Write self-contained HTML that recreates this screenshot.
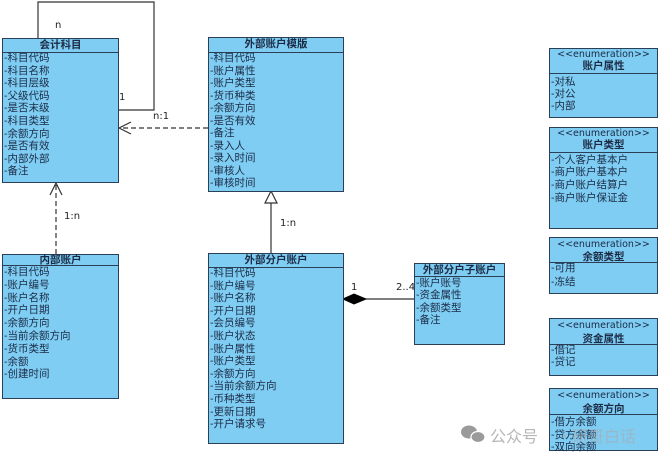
<!DOCTYPE html>
<html><head><meta charset="utf-8">
<style>
*{margin:0;padding:0;box-sizing:border-box}
html,body{width:660px;height:462px;background:#fff;overflow:hidden}
body{position:relative;font-family:"Liberation Sans","Noto Sans CJK SC",sans-serif;color:#1b2b45}
.b{position:absolute;background:#7fcdf3;border:1.3px solid #2b3f57}
.h{position:absolute;left:0;right:0;top:0;border-bottom:1.3px solid #2b3f57;text-align:center;font-weight:bold;font-size:10.5px;line-height:12px}
.r{position:absolute;left:1px;font-size:10.5px;white-space:nowrap}
.e{font-weight:normal;font-family:"DejaVu Sans","Noto Sans CJK SC",sans-serif;font-size:9.5px}
.l{position:absolute;font-size:10px;color:#222;font-family:"DejaVu Sans",sans-serif}
svg{position:absolute;left:0;top:0}
.wm{position:absolute;color:#aaa;font-size:16px;font-family:"Noto Sans CJK SC",sans-serif;line-height:16px;opacity:.85}
</style></head><body>

<svg width="660" height="462">
<g fill="none" stroke="#333" stroke-width="1.2">
<polyline points="38,38 38,2 154,2 154,110 118,110"/>
<line x1="208" y1="128" x2="120" y2="128" stroke-dasharray="5,3"/>
<polyline points="131,122 119,128 131,134"/>
<line x1="56" y1="254" x2="56" y2="184" stroke-dasharray="5,3"/>
<polyline points="50,195 56,183 62,195"/>
<line x1="271" y1="253" x2="271" y2="203"/>
<line x1="366" y1="299" x2="414" y2="299"/>
</g>
<polygon points="271,191 265,203 277,203" fill="#fff" stroke="#333" stroke-width="1.2"/>
<polygon points="343,299 354,294 366,299 354,304" fill="#000" stroke="#000"/>
<g fill="#9a9a9a">
<ellipse cx="469" cy="432" rx="8" ry="6.5"/>
<ellipse cx="478" cy="437" rx="7" ry="5.5" stroke="#fff" stroke-width="1.2"/>
</g>
</svg>

<div class="l" style="left:55px;top:20px">n</div>
<div class="l" style="left:119px;top:92px">1</div>
<div class="l" style="left:153px;top:111px">n:1</div>
<div class="l" style="left:64px;top:211px">1:n</div>
<div class="l" style="left:280px;top:218px">1:n</div>
<div class="l" style="left:351px;top:282px">1</div>
<div class="l" style="left:396px;top:282px">2..4</div>

<!-- 会计科目 -->
<div class="b" style="left:2px;top:38px;width:117px;height:145px">
<div class="h" style="height:14px">会计科目</div>
<div class="r" style="top:13px;line-height:12.6px">-科目代码<br>-科目名称<br>-科目层级<br>-父级代码<br>-是否末级<br>-科目类型<br>-余额方向<br>-是否有效<br>-内部外部<br>-备注</div>
</div>

<!-- 外部账户模版 -->
<div class="b" style="left:208px;top:37px;width:136px;height:155px">
<div class="h" style="height:15px">外部账户模版</div>
<div class="r" style="top:14px;line-height:12.5px">-科目代码<br>-账户属性<br>-账户类型<br>-货币种类<br>-余额方向<br>-是否有效<br>-备注<br>-录入人<br>-录入时间<br>-审核人<br>-审核时间</div>
</div>

<!-- 内部账户 -->
<div class="b" style="left:2px;top:254px;width:117px;height:145px">
<div class="h" style="height:11px;line-height:10px">内部账户</div>
<div class="r" style="top:11px;line-height:12.8px">-科目代码<br>-账户编号<br>-账户名称<br>-开户日期<br>-余额方向<br>-当前余额方向<br>-货币类型<br>-余额<br>-创建时间</div>
</div>

<!-- 外部分户账户 -->
<div class="b" style="left:208px;top:253px;width:136px;height:191px">
<div class="h" style="height:14px">外部分户账户</div>
<div class="r" style="top:13px;line-height:12.6px">-科目代码<br>-账户编号<br>-账户名称<br>-开户日期<br>-会员编号<br>-账户状态<br>-账户属性<br>-账户类型<br>-余额方向<br>-当前余额方向<br>-币种类型<br>-更新日期<br>-开户请求号</div>
</div>

<!-- 外部分户子账户 -->
<div class="b" style="left:414px;top:263px;width:91px;height:82px">
<div class="h" style="height:13px">外部分户子账户</div>
<div class="r" style="top:12.5px;line-height:12.6px">-账户账号<br>-资金属性<br>-余额类型<br>-备注</div>
</div>

<!-- enums -->
<div class="b" style="left:549px;top:48px;width:109px;height:70px">
<div class="h" style="height:25px;line-height:11.5px"><span class="e">&lt;&lt;enumeration&gt;&gt;</span><br>账户属性</div>
<div class="r" style="top:27px;line-height:12px">-对私<br>-对公<br>-内部</div>
</div>

<div class="b" style="left:549px;top:127px;width:109px;height:102px">
<div class="h" style="height:25px;line-height:11.5px"><span class="e">&lt;&lt;enumeration&gt;&gt;</span><br>账户类型</div>
<div class="r" style="top:25.5px;line-height:12.8px">-个人客户基本户<br>-商户账户基本户<br>-商户账户结算户<br>-商户账户保证金</div>
</div>

<div class="b" style="left:549px;top:237px;width:109px;height:57px">
<div class="h" style="height:25px;line-height:12px"><span class="e">&lt;&lt;enumeration&gt;&gt;</span><br>余额类型</div>
<div class="r" style="top:24px;line-height:13.5px">-可用<br>-冻结</div>
</div>

<div class="b" style="left:549px;top:318px;width:109px;height:58px">
<div class="h" style="height:26px;line-height:12.5px"><span class="e">&lt;&lt;enumeration&gt;&gt;</span><br>资金属性</div>
<div class="r" style="top:26px;line-height:11.5px">-借记<br>-贷记</div>
</div>

<div class="b" style="left:549px;top:388px;width:109px;height:63px">
<div class="h" style="height:26px;line-height:12.5px"><span class="e">&lt;&lt;enumeration&gt;&gt;</span><br>余额方向</div>
<div class="r" style="top:27px;line-height:12.6px">-借方余额<br>-贷方余额<br>-双向余额</div>
</div>

<div class="wm" style="left:490px;top:427px">公众号</div>
<div class="wm" style="left:556px;top:427px;opacity:.6">·研哥白话</div>

</body></html>
